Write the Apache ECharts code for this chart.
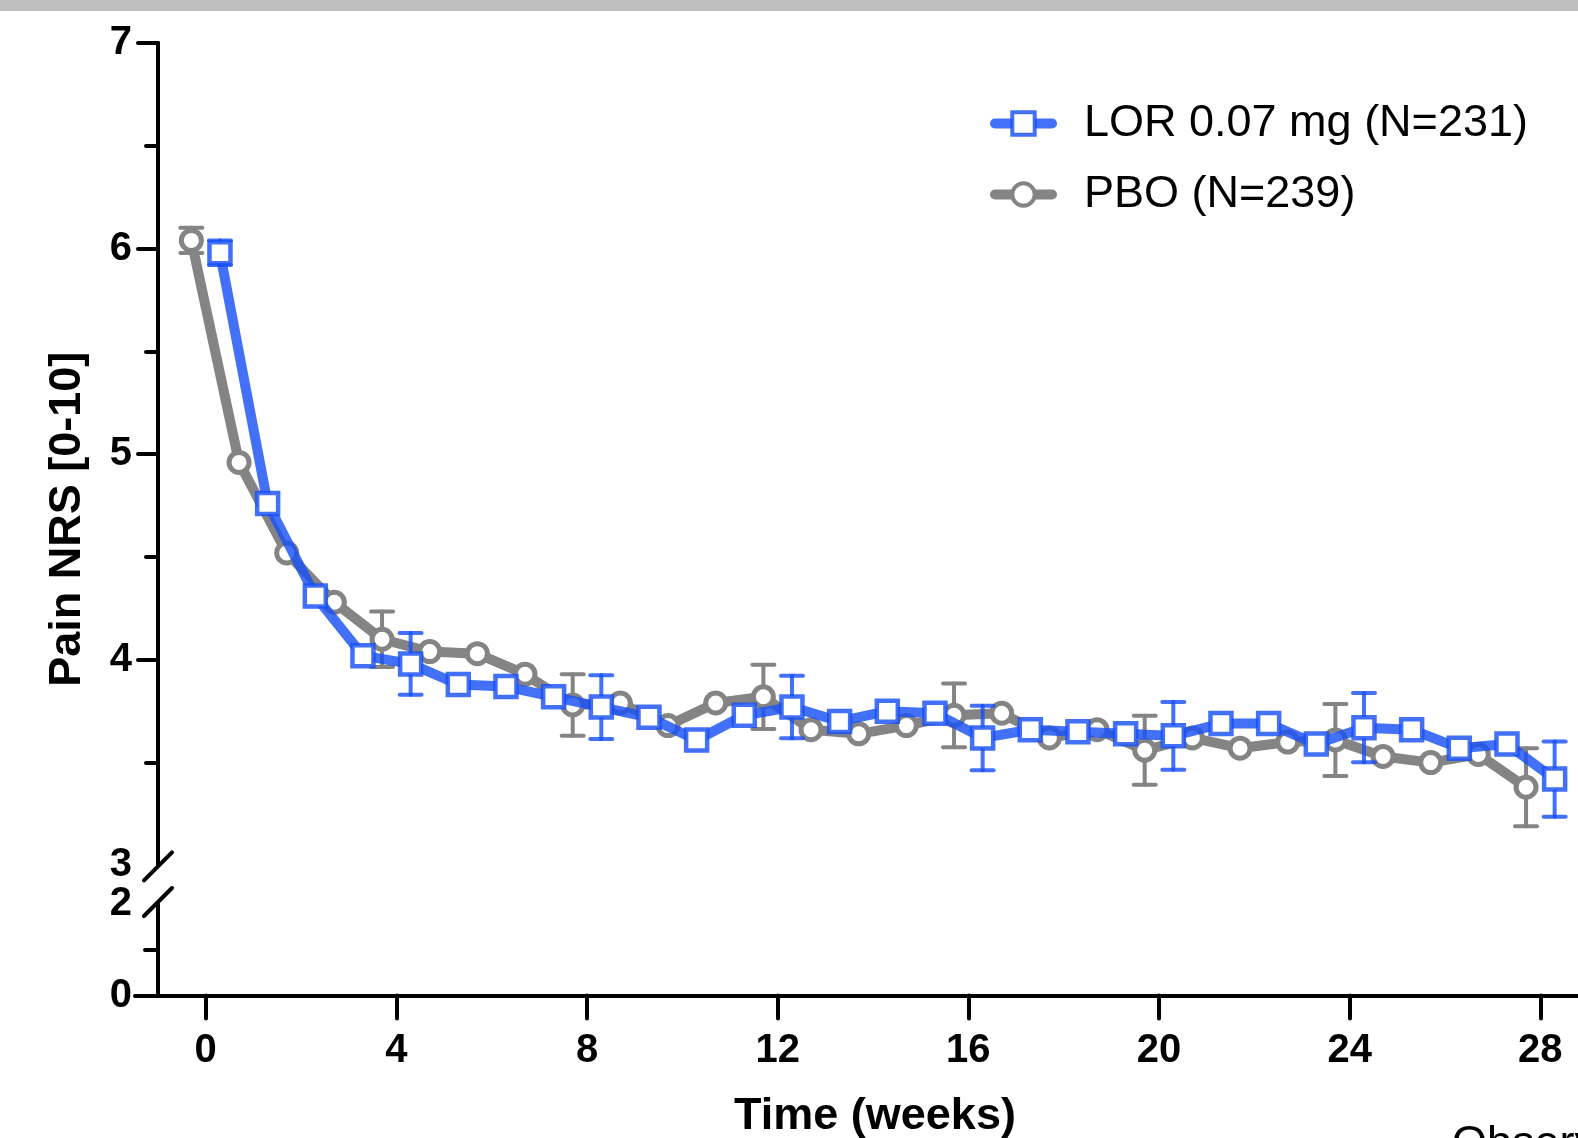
<!DOCTYPE html>
<html><head><meta charset="utf-8">
<script src="https://cdn.jsdelivr.net/npm/echarts@6/dist/echarts.min.js"></script>
<style>html,body{margin:0;padding:0;background:#fff;}#c{width:1578px;height:1138px;}</style>
</head><body><div id="c"></div>
<script>
// ---- data ----
const weeks = [0,1,2,3,4,5,6,7,8,9,10,11,12,13,14,15,16,17,18,19,20,21,22,23,24,25,26,27,28];
const lorMean = [5.98,4.76,4.31,4.02,3.98,3.88,3.87,3.82,3.77,3.72,3.61,3.73,3.77,3.70,3.75,3.74,3.62,3.66,3.65,3.64,3.63,3.69,3.69,3.59,3.67,3.66,3.57,3.59,3.42];
const pboMean = [6.04,4.96,4.52,4.28,4.10,4.04,4.03,3.93,3.78,3.79,3.68,3.79,3.82,3.66,3.64,3.68,3.73,3.74,3.62,3.66,3.56,3.62,3.57,3.60,3.61,3.53,3.50,3.54,3.38];
const errWeeks = [0,4,8,12,16,20,24,28];
const lorSE = [0.06,0.15,0.155,0.152,0.157,0.165,0.168,0.183];
const pboSE = [0.062,0.135,0.15,0.156,0.155,0.168,0.175,0.19];
const xTicks = [0,4,8,12,16,20,24,28];
const yUpperLabels = [3,4,5,6,7];
const yUpperMajorTicks = [4,5,6,7];
const yUpperMinorTicks = [3.5,4.5,5.5,6.5];
const yLowerLabels = [0,2];
const yLowerMajorTicks = [0];
const yLowerMinorTicks = [1];
const seriesNames = ['LOR 0.07 mg (N=231)','PBO (N=239)'];
const xName = 'Time (weeks)';
const yName = 'Pain NRS [0-10]';
const footText = 'Observed';
const dodge = 0.3;

// ---- styles ----
const FONT = '"Liberation Sans", Arial, Helvetica, sans-serif';
const BLUE = 'rgba(25,80,245,0.82)';
const GRAY = '#848484';

const lorPts = weeks.map((w,i)=>[w+dodge, lorMean[i]]);
const pboPts = weeks.map((w,i)=>[w-dodge, pboMean[i]]);
const lorErr = errWeeks.map((w,i)=>{const m=lorMean[weeks.indexOf(w)];return [w+dodge, m-lorSE[i], m+lorSE[i]];});
const pboErr = errWeeks.map((w,i)=>{const m=pboMean[weeks.indexOf(w)];return [w-dodge, m-pboSE[i], m+pboSE[i]];});

function errRender(color){
  return function(params, api){
    const x=api.value(0), lo=api.value(1), hi=api.value(2);
    const a=api.coord([x,lo]), b=api.coord([x,hi]);
    const h=11;
    const st={stroke:color, lineWidth:4, lineCap:'round'};
    return {type:'group', children:[
      {type:'line', shape:{x1:a[0],y1:a[1],x2:b[0],y2:b[1]}, style:st},
      {type:'line', shape:{x1:b[0]-h,y1:b[1],x2:b[0]+h,y2:b[1]}, style:st},
      {type:'line', shape:{x1:a[0]-h,y1:a[1],x2:a[0]+h,y2:a[1]}, style:st}
    ]};
  };
}

const axisLineStyle = {color:'#000', width:4, cap:'round'};
const tickStyle = {color:'#000', width:4, cap:'round'};
const labelStyle = {color:'#000', fontSize:40, fontWeight:'bold', fontFamily:FONT};

const chart = echarts.init(document.getElementById('c'), null, {renderer:'canvas'});
const XMIN=-1, XMAX=28.79;
const gridBase = {left:158, right:0, containLabel:false, outerBoundsMode:'none'};
const option = {
  animation:false,
  textStyle:{fontFamily:FONT},
  grid:[
    Object.assign({top:43, height:822.4}, gridBase),
    Object.assign({top:904, height:91.5}, gridBase),
    Object.assign({top:43, height:952.5}, gridBase)
  ],
  legend:{
    data:seriesNames, orient:'vertical', left:990, top:101, padding:0,
    itemWidth:57, itemHeight:28, itemGap:26,
    lineStyle:{width:10, cap:'round'},
    itemStyle:{borderWidth:4},
    textStyle:{fontSize:45, color:'#000', fontFamily:FONT, padding:[0,0,0,27]},
    selectedMode:false
  },
  xAxis:[
    {gridIndex:0, type:'value', min:XMIN, max:XMAX, show:false},
    {gridIndex:1, type:'value', min:XMIN, max:XMAX, position:'bottom',
     axisLine:{show:true, onZero:false, lineStyle:axisLineStyle},
     axisTick:{show:true, customValues:xTicks, length:23, lineStyle:tickStyle},
     axisLabel:Object.assign({customValues:xTicks, margin:35}, labelStyle),
     splitLine:{show:false},
     name:xName, nameLocation:'middle', nameGap:99,
     nameTextStyle:{fontSize:45, fontWeight:'bold', color:'#000', fontFamily:FONT, padding:[0,0,0,14]}},
    {gridIndex:2, type:'value', min:XMIN, max:XMAX, show:false}
  ],
  yAxis:[
    {gridIndex:0, type:'value', min:3, max:7, position:'left',
     axisLine:{show:true, onZero:false, lineStyle:axisLineStyle},
     axisTick:{show:true, customValues:yUpperMajorTicks, length:20, lineStyle:tickStyle},
     axisLabel:Object.assign({customValues:yUpperLabels, margin:26}, labelStyle),
     splitLine:{show:false}},
    {gridIndex:0, type:'value', min:3, max:7, position:'left', offset:0,
     axisLine:{show:false, onZero:false},
     axisTick:{show:true, customValues:yUpperMinorTicks, length:12, lineStyle:tickStyle},
     axisLabel:{show:false}, splitLine:{show:false}},
    {gridIndex:1, type:'value', min:0, max:2, position:'left',
     axisLine:{show:true, onZero:false, lineStyle:axisLineStyle},
     axisTick:{show:true, customValues:yLowerMajorTicks, length:23, lineStyle:tickStyle},
     axisLabel:Object.assign({customValues:yLowerLabels, margin:26}, labelStyle),
     splitLine:{show:false}},
    {gridIndex:1, type:'value', min:0, max:2, position:'left', offset:0,
     axisLine:{show:false, onZero:false},
     axisTick:{show:true, customValues:yLowerMinorTicks, length:13, lineStyle:tickStyle},
     axisLabel:{show:false}, splitLine:{show:false}},
    {gridIndex:2, type:'value', min:0, max:7, position:'left',
     axisLine:{show:false, onZero:false}, axisTick:{show:false}, axisLabel:{show:false}, splitLine:{show:false},
     name:yName, nameLocation:'middle', nameRotate:90, nameGap:68,
     nameTextStyle:{fontSize:45, fontWeight:'bold', color:'#000', fontFamily:FONT}}
  ],
  series:[
    {name:'PBO SE', type:'custom', xAxisIndex:0, yAxisIndex:0, z:1,
     renderItem:errRender(GRAY), encode:{x:0, y:[1,2]}, data:pboErr, clip:false},
    {name:seriesNames[1], type:'line', xAxisIndex:0, yAxisIndex:0, z:2,
     data:pboPts, symbol:'circle', symbolSize:20, clip:false,
     lineStyle:{color:GRAY, width:10},
     itemStyle:{color:'#fff', borderColor:GRAY, borderWidth:5}},
    {name:'LOR SE', type:'custom', xAxisIndex:0, yAxisIndex:0, z:3,
     renderItem:errRender(BLUE), encode:{x:0, y:[1,2]}, data:lorErr, clip:false},
    {name:seriesNames[0], type:'line', xAxisIndex:0, yAxisIndex:0, z:4,
     data:lorPts, symbol:'rect', symbolSize:21, clip:false,
     lineStyle:{color:BLUE, width:10},
     itemStyle:{color:'#fff', borderColor:BLUE, borderWidth:4.5}}
  ],
  graphic:[
    {type:'rect', left:0, top:0, shape:{width:1578, height:11}, style:{fill:'#bfbfbf'}, silent:true},
    {type:'text', left:1452, top:1122, style:{text:footText, fontSize:45, fill:'#000', fontFamily:FONT}, silent:true}
  ]
};
chart.setOption(option);

// axis break slashes, placed at the ends of the two y-axis segments
const pU = chart.convertToPixel({xAxisIndex:0, yAxisIndex:0}, [XMIN, 3]);
const pL = chart.convertToPixel({xAxisIndex:1, yAxisIndex:2}, [XMIN, 2]);
const sl = (p, dy) => ({type:'line', silent:true, z:100,
  shape:{x1:p[0]-14, y1:p[1]+dy+14, x2:p[0]+14, y2:p[1]+dy-14},
  style:{stroke:'#000', lineWidth:4, lineCap:'round'}});
option.graphic.push(sl(pU, 1), sl(pL, -2));
chart.setOption({graphic:option.graphic});
</script></body></html>
